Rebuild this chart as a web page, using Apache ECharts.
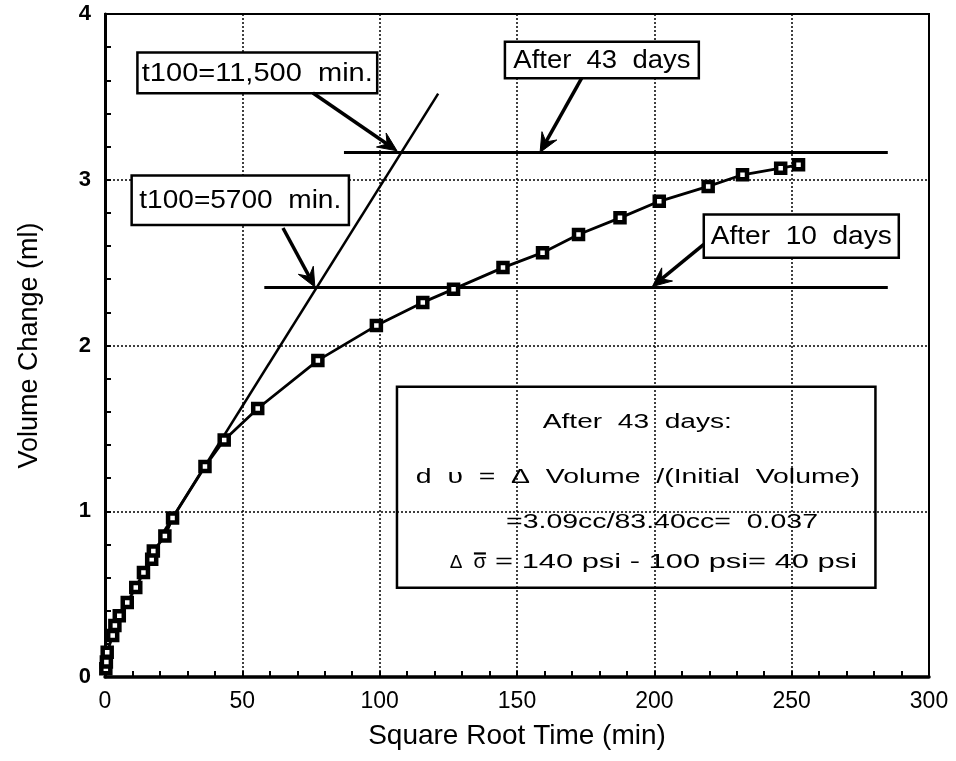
<!DOCTYPE html>
<html>
<head>
<meta charset="utf-8">
<script src="https://cdn.jsdelivr.net/npm/echarts@6/dist/echarts.min.js"></script>
<style>
html,body{margin:0;padding:0;background:#fff;}
#main{width:956px;height:761px;}
</style>
</head>
<body>
<div id="main"></div>
<script>
// ---- data ----
const sqrtTime = [0.3,0.5,0.8,2.8,3.6,5.2,8.1,11.2,14.0,17.0,17.6,21.8,24.6,36.4,43.4,55.6,77.5,98.8,115.7,126.9,144.9,159.3,172.4,187.5,201.8,219.6,232.1,246.0,252.5];
const volumeChange = [0.05,0.09,0.15,0.25,0.31,0.37,0.45,0.54,0.63,0.71,0.76,0.85,0.96,1.27,1.43,1.62,1.91,2.12,2.26,2.34,2.47,2.56,2.67,2.77,2.87,2.96,3.03,3.07,3.09];
const tangentX = [20, 121.3];
const tangentY = [0.84, 3.52];
const level43X = [87, 285];
const level43Y = [3.165, 3.165];
const level10X = [58, 285];
const level10Y = [2.35, 2.35];
const xTickValues = [0, 50, 100, 150, 200, 250, 300];
const yTickValues = [0, 1, 2, 3, 4];

// ---- annotations (data coordinates) ----
const labelBoxes = [
  {text:'t100=11,500  min.', x1:11.8, y1:3.767, x2:99.1, y2:3.522, w:231},
  {text:'t100=5700  min.',   x1:9.7,  y1:3.026, x2:88.8, y2:2.727, w:202},
  {text:'After  43  days',   x1:145.6,y1:3.833, x2:216.2,y2:3.613, w:177},
  {text:'After  10  days',   x1:218,  y1:2.79,  x2:289,  y2:2.53,  w:181}
];
const arrows = [
  {from:[75.7,3.523], to:[106.3,3.175]},
  {from:[173.6,3.614], to:[158.4,3.165]},
  {from:[64.8,2.709], to:[76.4,2.353]},
  {from:[218,2.61], to:[199.3,2.356]}
];
const noteBox = {x1:106.3, y1:1.751, x2:280.5, y2:0.539};
const noteLines = [
  {text:'After  43  days:', x:193.8, y:1.533, w:189, size:20},
  {text:'d  υ  =  Δ  Volume  /(Initial  Volume)', x:194, y:1.205, w:444, size:20},
  {text:'=3.09cc/83.40cc=  0.037', x:202.8, y:0.931, w:312, size:20},
  {text:'Δ', x:127.8, y:0.691, w:0, size:19},
  {text:'σ', x:136.5, y:0.691, w:0, size:21, bar:true},
  {text:'= 140 psi - 100 psi= 40 psi', x:207.9, y:0.691, w:362, size:20}
];

const FONT = "'Liberation Sans', Arial, sans-serif";
const chart = echarts.init(document.getElementById('main'), null, {renderer:'canvas'});

const option = {
  animation: false,
  backgroundColor: '#fff',
  grid: {left:105, right:27, top:14, bottom:84, show:true, borderColor:'#000', borderWidth:2, backgroundColor:'transparent', outerBoundsMode:'none'},
  xAxis: {
    type:'value', min:0, max:300, interval:50,
    name:'Square Root Time (min)', nameLocation:'middle', nameGap:45,
    nameTextStyle:{fontFamily:FONT, fontSize:28, color:'#000'},
    axisLine:{show:true, onZero:false, lineStyle:{color:'#000', width:3.5}},
    axisTick:{show:true, inside:true, length:6, lineStyle:{color:'#000', width:2}},
    minorTick:{show:true, splitNumber:5, length:6, lineStyle:{color:'#000', width:2}},
    splitLine:{show:true, lineStyle:{color:'#000', width:1.5, type:[2,2]}},
    axisLabel:{fontFamily:FONT, fontSize:23, color:'#000', margin:13,
      formatter: v => xTickValues.indexOf(v) >= 0 ? String(v) : ''}
  },
  yAxis: {
    type:'value', min:0, max:4, interval:1,
    name:'Volume Change (ml)', nameLocation:'middle', nameGap:62, nameRotate:90,
    nameTextStyle:{fontFamily:FONT, fontSize:27, color:'#000'},
    axisLine:{show:true, onZero:false, lineStyle:{color:'#000', width:3}},
    axisTick:{show:true, inside:true, length:6, lineStyle:{color:'#000', width:2}},
    minorTick:{show:true, splitNumber:5, length:6, lineStyle:{color:'#000', width:2}},
    splitLine:{show:true, lineStyle:{color:'#000', width:1.5, type:[2,2]}},
    axisLabel:{fontFamily:FONT, fontWeight:'bold', fontSize:22, color:'#000', margin:14,
      formatter: v => yTickValues.indexOf(v) >= 0 ? String(v) : ''}
  },
  series: [
    {
      name:'tangent', type:'line', silent:true, symbol:'none', z:3,
      data: tangentX.map((x,i)=>[x, tangentY[i]]),
      lineStyle:{color:'#000', width:2.5}
    },
    {
      name:'after43', type:'line', silent:true, symbol:'none', z:3,
      data: level43X.map((x,i)=>[x, level43Y[i]]),
      lineStyle:{color:'#000', width:3}
    },
    {
      name:'after10', type:'line', silent:true, symbol:'none', z:3,
      data: level10X.map((x,i)=>[x, level10Y[i]]),
      lineStyle:{color:'#000', width:3}
    },
    {
      name:'Volume Change', type:'line', z:4,
      data: sqrtTime.map((x,i)=>[x, volumeChange[i]]),
      symbol:'rect', symbolSize:9,
      lineStyle:{color:'#000', width:2.8},
      itemStyle:{color:'#fff', borderColor:'#000', borderWidth:4.5}
    }
  ]
};
chart.setOption(option);

// ---- annotations built through the grid's coordinate conversion ----
const measureCtx = document.createElement('canvas').getContext('2d');
function scaleFor(text, size, target){
  if (!target) return 1;
  measureCtx.font = size + 'px ' + FONT;
  const w = measureCtx.measureText(text).width;
  return w > 0 ? target / w : 1;
}
function toPx(p){ return chart.convertToPixel({gridIndex:0}, p); }

const g = [];
labelBoxes.forEach(b => {
  const p1 = toPx([b.x1, b.y1]), p2 = toPx([b.x2, b.y2]);
  g.push({type:'rect', z:100, shape:{x:p1[0], y:p1[1], width:p2[0]-p1[0], height:p2[1]-p1[1]},
    style:{fill:'#fff', stroke:'#000', lineWidth:2.5}});
  const cx = (p1[0]+p2[0])/2, cy = (p1[1]+p2[1])/2;
  g.push({type:'text', z:101, x:cx, y:cy+1, scaleX:scaleFor(b.text, 25, b.w),
    style:{text:b.text, fontSize:25, fontFamily:FONT, fill:'#000', textAlign:'center', textVerticalAlign:'middle'}});
});
(function(){
  const p1 = toPx([noteBox.x1, noteBox.y1]), p2 = toPx([noteBox.x2, noteBox.y2]);
  g.push({type:'rect', z:100, shape:{x:p1[0], y:p1[1], width:p2[0]-p1[0], height:p2[1]-p1[1]},
    style:{fill:'transparent', stroke:'#000', lineWidth:2.5}});
})();
noteLines.forEach(l => {
  const p = toPx([l.x, l.y]);
  g.push({type:'text', z:101, x:p[0], y:p[1], scaleX:scaleFor(l.text, l.size, l.w),
    style:{text:l.text, fontSize:l.size, fontFamily:FONT, fill:'#000', textAlign:'center', textVerticalAlign:'middle'}});
  if (l.bar) {
    g.push({type:'line', z:101, shape:{x1:p[0]-6, y1:p[1]-9, x2:p[0]+6, y2:p[1]-9},
      style:{stroke:'#000', lineWidth:2.2}});
  }
});
arrows.forEach(a => {
  const p0 = toPx(a.from), p1 = toPx(a.to);
  const dx = p1[0]-p0[0], dy = p1[1]-p0[1];
  const len = Math.sqrt(dx*dx+dy*dy);
  const ux = dx/len, uy = dy/len, nx = -uy, ny = ux;
  const L = 19, W = 8.5, N = 12;
  const sEnd = [p1[0]-ux*N, p1[1]-uy*N];
  g.push({type:'polyline', z:102, shape:{points:[p0, sEnd]}, style:{stroke:'#000', lineWidth:3.5, fill:null}});
  g.push({type:'polygon', z:102, shape:{points:[
    p1,
    [p1[0]-ux*L+nx*W, p1[1]-uy*L+ny*W],
    sEnd,
    [p1[0]-ux*L-nx*W, p1[1]-uy*L-ny*W]
  ]}, style:{fill:'#000', stroke:'#000', lineWidth:1}});
});
chart.setOption({graphic: g});
</script>
</body>
</html>
